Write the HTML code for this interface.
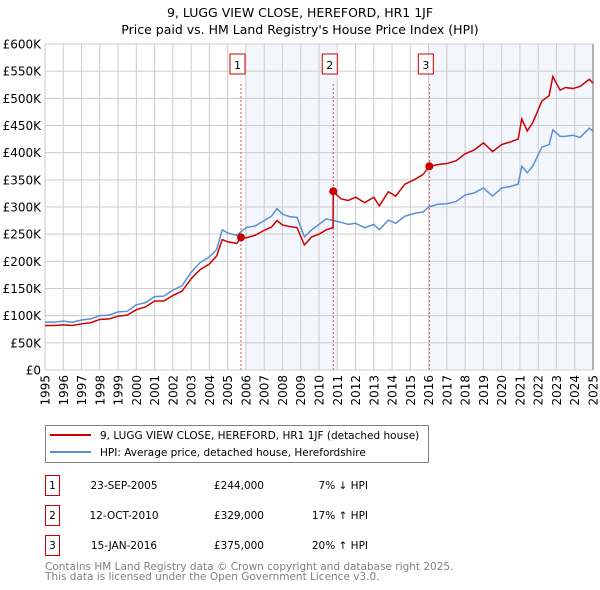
<!DOCTYPE html>
<html><head><meta charset="utf-8"><style>
body{margin:0;background:#fff;font-family:"DejaVu Sans","Liberation Sans",sans-serif;}
svg{display:block}
</style></head><body>
<svg id="c" width="600" height="590" xmlns="http://www.w3.org/2000/svg" font-family="DejaVu Sans, Liberation Sans, sans-serif">
<text x="300" y="17" text-anchor="middle" font-size="12.5" fill="#000">9, LUGG VIEW CLOSE, HEREFORD, HR1 1JF</text>
<text x="300" y="34" text-anchor="middle" font-size="12.5" fill="#000">Price paid vs. HM Land Registry's House Price Index (HPI)</text>
<g id="plot"></g>
<rect x="45.5" y="425.5" width="383" height="37" fill="#fff" stroke="#808080"/>
<line x1="50" y1="435" x2="91" y2="435" stroke="#cc0000" stroke-width="2"/>
<text x="100" y="439" font-size="10.5">9, LUGG VIEW CLOSE, HEREFORD, HR1 1JF (detached house)</text>
<line x1="50" y1="452" x2="91" y2="452" stroke="#5b8fd4" stroke-width="2"/>
<text x="100" y="456" font-size="10.5">HPI: Average price, detached house, Herefordshire</text>
<g id="tbl" font-size="10.5"></g>
<text x="45" y="570" font-size="10.5" fill="#808080">Contains HM Land Registry data © Crown copyright and database right 2025.</text>
<text x="45" y="580" font-size="10.5" fill="#808080">This data is licensed under the Open Government Licence v3.0.</text>
</svg>
<script>
const hpiYears=[1995,1995.5,1996,1996.5,1997,1997.5,1998,1998.5,1999,1999.5,2000,2000.5,2001,2001.5,2002,2002.5,2003,2003.5,2004,2004.4,2004.7,2005,2005.5,2006,2006.5,2007,2007.4,2007.7,2008,2008.4,2008.8,2009.2,2009.6,2010,2010.4,2010.8,2011.2,2011.6,2012,2012.5,2013,2013.3,2013.8,2014.2,2014.7,2015.2,2015.7,2016,2016.5,2017,2017.5,2018,2018.5,2019,2019.5,2020,2020.5,2020.9,2021.1,2021.4,2021.7,2022.2,2022.6,2022.8,2023.2,2023.5,2023.9,2024.3,2024.8,2025];
const hpiVals=[88,88,90,88,92,94,100,101,107,108,120,124,135,136,147,155,180,198,208,222,258,252,248,262,265,275,283,297,287,282,281,245,258,268,278,275,272,268,270,262,268,258,276,270,283,288,291,300,305,306,310,322,326,335,320,335,338,342,375,363,375,410,415,442,430,430,432,428,445,440];
const priceYears=[1995,1995.5,1996,1996.5,1997,1997.5,1998,1998.5,1999,1999.5,2000,2000.5,2001,2001.5,2002,2002.5,2003,2003.5,2004,2004.4,2004.7,2005,2005.5,2005.73,2006,2006.5,2007,2007.4,2007.7,2008,2008.4,2008.8,2009.2,2009.6,2010,2010.4,2010.77,2010.78,2011.2,2011.6,2012,2012.5,2013,2013.3,2013.8,2014.2,2014.7,2015.2,2015.7,2016.04,2016.5,2017,2017.5,2018,2018.5,2019,2019.5,2020,2020.5,2020.9,2021.1,2021.4,2021.7,2022.2,2022.6,2022.8,2023.2,2023.5,2023.9,2024.3,2024.8,2025];
const priceVals=[82,82,83,82,85,87,93,94,99,101,111,116,127,127,137,145,168,185,195,210,240,236,233,244,243,248,257,263,275,267,264,262,230,245,250,258,262,329,315,312,318,308,318,302,328,320,342,350,360,375,378,380,385,398,405,418,402,415,420,425,462,440,455,495,505,540,515,520,518,522,535,528];
const sales=[{n:'1',t:2005.73,v:244,d:'23-SEP-2005',p:'£244,000',h:'7% ↓ HPI'},{n:'2',t:2010.78,v:329,d:'12-OCT-2010',p:'£329,000',h:'17% ↑ HPI'},{n:'3',t:2016.04,v:375,d:'15-JAN-2016',p:'£375,000',h:'20% ↑ HPI'}];
const yTicks=[0,50,100,150,200,250,300,350,400,450,500,550,600];
const xTicks=[1995,1996,1997,1998,1999,2000,2001,2002,2003,2004,2005,2006,2007,2008,2009,2010,2011,2012,2013,2014,2015,2016,2017,2018,2019,2020,2021,2022,2023,2024,2025];
const NS='http://www.w3.org/2000/svg';
const X0=45,X1=593,Y0=370,Y1=44;
const xs=t=>X0+(t-1995)/30*(X1-X0);
const ys=v=>Y0-v/600*(Y0-Y1);
const g=document.getElementById('plot');
function mk(tag,a,parent){const e=document.createElementNS(NS,tag);for(const k in a)e.setAttribute(k,a[k]);(parent||g).appendChild(e);return e;}
let e;
e=mk('rect',{x:X0,y:Y1,width:X1-X0,height:Y0-Y1,fill:'#fff'});


e=mk('rect',{x:xs(2006),y:Y1,width:xs(2011)-xs(2006),height:Y0-Y1,fill:'#eef2fc',opacity:0.7});


e=mk('rect',{x:xs(2016),y:Y1,width:X1-xs(2016),height:Y0-Y1,fill:'#eef2fc',opacity:0.7});


yTicks.forEach(v=>{
 e=mk('line',{x1:X0,x2:X1,y1:ys(v),y2:ys(v),stroke:'#cccccc','stroke-width':1});
 
 
 e=mk('text',{x:X0-4,y:ys(v)+4.5,'text-anchor':'end','font-size':12});
 e.textContent=v===0?'£0':'£'+v+'K';
 
 
});
xTicks.forEach(t=>{
 e=mk('line',{x1:xs(t),x2:xs(t),y1:Y1,y2:Y0,stroke:'#cccccc','stroke-width':1});
 
 
 e=mk('text',{x:0,y:0,'text-anchor':'end','font-size':12,transform:`translate(${xs(t)+4.5},${Y0+5}) rotate(-90)`});
 e.textContent=t;
 
 
});
e=mk('line',{x1:X1,x2:X1,y1:Y1,y2:Y0,stroke:'#999','stroke-width':1.5});


sales.forEach(s=>{
 e=mk('line',{x1:xs(s.t),x2:xs(s.t),y1:Y1+40,y2:Y0,stroke:'#e05050','stroke-width':1,'stroke-dasharray':'2,2'});
 
 
 e=mk('rect',{x:xs(s.t)-11,y:Y1+10,width:15,height:20,fill:'#fff',stroke:'#cc0000'});
 
 
 e=mk('text',{x:xs(s.t)-3.5,y:Y1+25,'text-anchor':'middle','font-size':11});
 e.textContent=s.n;
 
 
});
e=mk('polyline',{points:hpiYears.map((t,i)=>xs(t)+','+ys(hpiVals[i])).join(' '),fill:'none',stroke:'#5b8fd4','stroke-width':1.5});


e=mk('polyline',{points:priceYears.map((t,i)=>xs(t)+','+ys(priceVals[i])).join(' '),fill:'none',stroke:'#cc0000','stroke-width':1.5});


sales.forEach(s=>{
 e=mk('circle',{cx:xs(s.t),cy:ys(s.v),r:4,fill:'#cc0000'});
 
 
});
const tb=document.getElementById('tbl');
sales.forEach((s,i)=>{
 const y=475+i*30;
 e=mk('rect',{x:45.5,y:y+0.5,width:14,height:20,fill:'#fff',stroke:'#cc0000'},tb);
 
 
 e=mk('text',{x:52.5,y:y+14,'text-anchor':'middle'},tb);e.textContent=s.n;
 
 
 e=mk('text',{x:124,y:y+14,'text-anchor':'middle'},tb);e.textContent=s.d;
 
 
 e=mk('text',{x:264,y:y+14,'text-anchor':'end'},tb);e.textContent=s.p;
 
 
 e=mk('text',{x:368,y:y+14,'text-anchor':'end'},tb);e.textContent=s.h;
 
 
});
</script>
</body></html>
